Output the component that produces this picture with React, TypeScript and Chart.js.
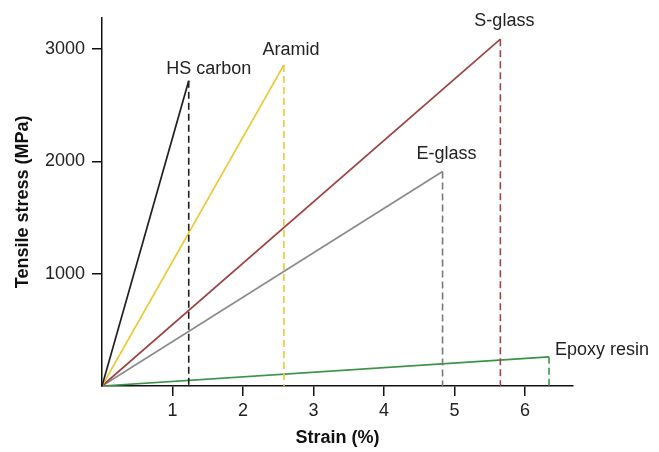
import React, { useEffect, useRef } from "react";
import { Chart, registerables } from "chart.js";

Chart.register(...registerables);

// ---- data ----
const materials = ["HS carbon", "Aramid", "S-glass", "E-glass", "Epoxy resin"];
const failureStrain = [1.23, 2.58, 5.65, 4.83, 6.34]; // %
const failureStress = [2720, 2860, 3090, 1910, 260]; // MPa
const xTickValues = [1, 2, 3, 4, 5, 6];
const yTickValues = [1000, 2000, 3000];

// ---- styles ----
const lineColors = ["#1e1e1e", "#ebc934", "#9e4242", "#8a8a8a", "#3a9346"];
const dashColors = ["#1e1e1e", "#ebc934", "#9e4242", "#777777", "#3a9346"];
// label offset from the end point (px): dx, dy, align
const labelStyle: [number, number, CanvasTextAlign][] = [
  [20, -12, "center"],
  [7, -15, "center"],
  [4, -18, "center"],
  [4, -17.5, "center"],
  [6, -7, "left"],
];

const FONT = '"Liberation Sans", Arial, Helvetica, sans-serif';

export default function App() {
  const ref = useRef<HTMLCanvasElement | null>(null);

  useEffect(() => {
    if (!ref.current) return;
    const datasets: any[] = [];
    materials.forEach((m, i) => {
      datasets.push({
        label: m,
        data: [
          { x: 0, y: 0 },
          { x: failureStrain[i], y: failureStress[i] },
        ],
        borderColor: lineColors[i],
        borderWidth: 1.7,
        pointRadius: 0,
        tension: 0,
      });
      datasets.push({
        label: m + " failure",
        data: [
          { x: failureStrain[i], y: failureStress[i] },
          { x: failureStrain[i], y: 0 },
        ],
        borderColor: dashColors[i],
        borderWidth: 1.6,
        borderDash: [7, 4],
        pointRadius: 0,
        tension: 0,
      });
    });

    const labelPlugin = {
      id: "endLabels",
      afterDatasetsDraw(chart: any) {
        const { ctx, scales } = chart;
        ctx.save();
        ctx.font = "18px " + FONT;
        ctx.fillStyle = "#222222";
        ctx.textBaseline = "middle";
        materials.forEach((m, i) => {
          const px = scales.x.getPixelForValue(failureStrain[i]);
          const py = scales.y.getPixelForValue(failureStress[i]);
          const [dx, dy, align] = labelStyle[i];
          ctx.textAlign = align;
          ctx.fillText(m, px + dx, py + dy);
        });
        ctx.restore();
      },
    };

    const chart = new Chart(ref.current, {
      type: "line",
      data: { datasets },
      options: {
        animation: false,
        responsive: false,
        maintainAspectRatio: false,
        layout: { padding: { left: 0, top: 16, right: 86, bottom: 0 } },
        plugins: {
          legend: { display: false },
          tooltip: { enabled: false },
        },
        scales: {
          x: {
            type: "linear",
            min: 0,
            max: 6.68,
            afterFit: (s: any) => {
              s.height = 66;
            },
            afterBuildTicks: (s: any) => {
              s.ticks = xTickValues.map((v) => ({ value: v }));
            },
            grid: {
              drawOnChartArea: false,
              drawTicks: true,
              tickLength: 10,
              color: "#111111",
              lineWidth: 1.5,
            },
            border: { display: true, color: "#111111", width: 1.5 },
            ticks: {
              padding: 4,
              color: "#222222",
              font: { family: FONT, size: 18 },
              maxRotation: 0,
              autoSkip: false,
              callback: (v: any) => String(v),
            },
            title: {
              display: true,
              text: "Strain (%)",
              color: "#111111",
              font: { family: FONT, size: 18, weight: "bold" },
              padding: { top: 0, bottom: 3 },
            },
          },
          y: {
            type: "linear",
            min: 0,
            max: 3280,
            afterFit: (s: any) => {
              s.width = 102;
            },
            afterBuildTicks: (s: any) => {
              s.ticks = yTickValues.map((v) => ({ value: v }));
            },
            grid: {
              drawOnChartArea: false,
              drawTicks: true,
              tickLength: 10,
              color: "#111111",
              lineWidth: 1.5,
            },
            border: { display: true, color: "#111111", width: 1.5 },
            ticks: {
              padding: 7,
              color: "#222222",
              font: { family: FONT, size: 18 },
              autoSkip: false,
              callback: (v: any) => String(v),
            },
            title: {
              display: true,
              text: "Tensile stress (MPa)",
              color: "#111111",
              font: { family: FONT, size: 18, weight: "bold" },
              padding: { top: 12, bottom: 0 },
            },
          },
        },
      },
      plugins: [labelPlugin],
    });
    return () => chart.destroy();
  }, []);

  return (
    <div style={{ position: "fixed", left: 0, top: 0, width: 659, height: 452, background: "#ffffff" }}>
      <canvas ref={ref} width={659} height={452} style={{ width: 659, height: 452 }} />
    </div>
  );
}
